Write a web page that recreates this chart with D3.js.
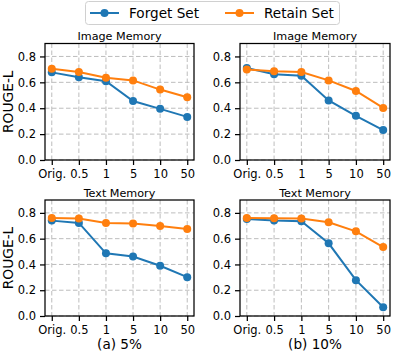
<!DOCTYPE html>
<html>
<head>
<meta charset="utf-8">
<script src="https://cdn.jsdelivr.net/npm/d3@7"></script>
<style>
  body { margin: 0; background: #fff; }
  svg { font-family: "DejaVu Sans", sans-serif; display: block; }
</style>
</head>
<body>
<div id="chart"></div>
<script>
// x categories (learning-rate / steps)
var categories = ["Orig.", "0.5", "1", "5", "10", "50"];
var yTicks = [0.0, 0.2, 0.4, 0.6, 0.8];

// (a) 5%
var imageForgetA = [0.677, 0.64, 0.608, 0.456, 0.395, 0.333];
var imageRetainA = [0.705, 0.68, 0.636, 0.615, 0.544, 0.485];
var textForgetA = [0.74, 0.722, 0.486, 0.462, 0.39, 0.301];
var textRetainA = [0.761, 0.756, 0.722, 0.717, 0.699, 0.675];

// (b) 10%
var imageForgetB = [0.71, 0.662, 0.651, 0.46, 0.341, 0.231];
var imageRetainB = [0.70, 0.685, 0.68, 0.615, 0.533, 0.402];
var textForgetB = [0.753, 0.74, 0.735, 0.564, 0.278, 0.068];
var textRetainB = [0.761, 0.758, 0.756, 0.727, 0.657, 0.535];

var seriesNames = ["Forget Set", "Retain Set"];
var colors = ["#1f77b4", "#ff7f0e"];

var width = 393, height = 355;

var svg = d3.select("#chart").append("svg")
    .attr("width", width)
    .attr("height", height);

var panels = [
    {x0: 45, x1: 194, y0: 43.5, y1: 160, title: "Image Memory", forget: imageForgetA, retain: imageRetainA, ylabel: true},
    {x0: 240, x1: 390, y0: 43.5, y1: 160, title: "Image Memory", forget: imageForgetB, retain: imageRetainB, ylabel: false},
    {x0: 45, x1: 194, y0: 200, y1: 316, title: "Text Memory", forget: textForgetA, retain: textRetainA, ylabel: true},
    {x0: 240, x1: 390, y0: 200, y1: 316, title: "Text Memory", forget: textForgetB, retain: textRetainB, ylabel: false}
];

panels.forEach(function (p) {
    var x = d3.scalePoint()
        .domain(categories)
        .range([p.x0, p.x1])
        .padding(0.25);
    var y = d3.scaleLinear()
        .domain([0, 0.9])
        .range([p.y1, p.y0]);

    var g = svg.append("g");

    // grid
    g.selectAll(".gx").data(categories).enter().append("line")
        .attr("x1", d => x(d)).attr("x2", d => x(d))
        .attr("y1", p.y0).attr("y2", p.y1)
        .attr("stroke", "#bdbdbd").attr("stroke-width", 1)
        .attr("stroke-dasharray", "4.5,2.5");
    g.selectAll(".gy").data(yTicks).enter().append("line")
        .attr("x1", p.x0).attr("x2", p.x1)
        .attr("y1", d => y(d)).attr("y2", d => y(d))
        .attr("stroke", "#bdbdbd").attr("stroke-width", 1)
        .attr("stroke-dasharray", "4.5,2.5");

    // axes
    var xAxis = g.append("g")
        .attr("transform", "translate(0," + p.y1 + ")")
        .call(d3.axisBottom(x).tickSize(5).tickPadding(4.5).tickSizeOuter(0));
    var yAxis = g.append("g")
        .attr("transform", "translate(" + p.x0 + ",0)")
        .call(d3.axisLeft(y).tickValues(yTicks).tickFormat(d3.format(".1f")).tickSize(5).tickPadding(4).tickSizeOuter(0));
    [xAxis, yAxis].forEach(function (a) {
        a.attr("font-family", "DejaVu Sans").attr("font-size", 11.5);
        a.select(".domain").remove();
        a.selectAll("line").attr("stroke", "#000").attr("stroke-width", 1.25);
        a.selectAll("text").attr("fill", "#000");
    });

    // frame
    g.append("rect")
        .attr("x", p.x0).attr("y", p.y0)
        .attr("width", p.x1 - p.x0).attr("height", p.y1 - p.y0)
        .attr("fill", "none").attr("stroke", "#000").attr("stroke-width", 1.25);

    // lines + markers
    var line = d3.line()
        .x((d, i) => x(categories[i]))
        .y(d => y(d));
    [p.forget, p.retain].forEach(function (vals, k) {
        g.append("path")
            .datum(vals)
            .attr("d", line)
            .attr("fill", "none")
            .attr("stroke", colors[k])
            .attr("stroke-width", 2);
        g.selectAll(".m" + k).data(vals).enter().append("circle")
            .attr("cx", (d, i) => x(categories[i]))
            .attr("cy", d => y(d))
            .attr("r", 4)
            .attr("fill", colors[k]);
    });

    // title
    g.append("text")
        .attr("x", (p.x0 + p.x1) / 2)
        .attr("y", p.y0 - 3.5)
        .attr("text-anchor", "middle")
        .attr("font-size", 11.2)
        .text(p.title);

    if (p.ylabel) {
        g.append("text")
            .attr("transform", "translate(13," + ((p.y0 + p.y1) / 2) + ") rotate(-90)")
            .attr("text-anchor", "middle")
            .attr("font-size", 13.8)
            .text("ROUGE-L");
    }
});

// captions
svg.append("text").attr("x", 119.5).attr("y", 348.5).attr("text-anchor", "middle")
    .attr("font-size", 13.6).text("(a) 5%");
svg.append("text").attr("x", 315).attr("y", 348.5).attr("text-anchor", "middle")
    .attr("font-size", 13.6).text("(b) 10%");

// legend
var legend = svg.append("g");
legend.append("rect")
    .attr("x", 85.5).attr("y", 1.5).attr("width", 254).attr("height", 23)
    .attr("rx", 3).attr("fill", "#fff").attr("stroke", "#d0d0d0").attr("stroke-width", 1);
var legendX = [90, 225];
seriesNames.forEach(function (name, k) {
    var lx = legendX[k];
    legend.append("line")
        .attr("x1", lx).attr("x2", lx + 29).attr("y1", 13).attr("y2", 13)
        .attr("stroke", colors[k]).attr("stroke-width", 2);
    legend.append("circle")
        .attr("cx", lx + 14.5).attr("cy", 13).attr("r", 4).attr("fill", colors[k]);
    legend.append("text")
        .attr("x", lx + 39).attr("y", 17.8)
        .attr("font-size", 13.6)
        .text(name);
});
</script>
</body>
</html>
